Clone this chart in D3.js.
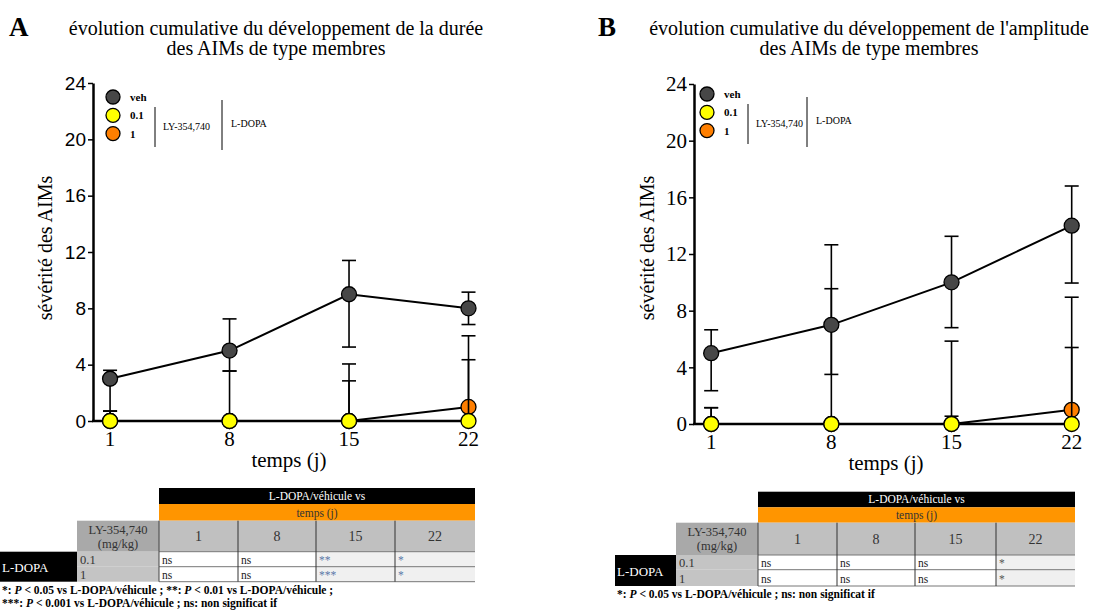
<!DOCTYPE html>
<meta charset="UTF-8">
<style>
  body { margin: 0; background: #fff; }
  svg text { font-family: "Liberation Serif", "Times New Roman", serif; }
  .err { stroke: #000; stroke-width: 1.6px; fill: none; }
  .serie { fill: none; stroke: #000; stroke-width: 2px; }
  .dot { stroke: #000; stroke-width: 1.3px; }
</style>
<body>
<script src="https://cdn.jsdelivr.net/npm/d3@7"></script>
<script>
// shared
var days = [1, 8, 15, 22];
var yTicks = [0, 4, 8, 12, 16, 20, 24];
var groups = ["veh", "0.1", "1"];
var colors = ["#474747", "#ffff00", "#ff7f00"];

// A : durée
var dureeVeh = [3, 5, 9, 8];
var dureeLY01 = [0, 0, 0, 0];
var dureeLY1 = [0, 0, 0, 1];
var dureeVehErr = [[0.7, 3.6], [3.55, 7.25], [5.25, 11.4], [6.85, 9.15]];
var dureeLY01Err = [[0, 0.7], [0, 0], [0, 2.85], [0, 4.35]];
var dureeLY1Err = [[0, 0.7], [0, 3.55], [0, 4.05], [0, 6.05]];

// B : amplitude
var ampVeh = [5, 7, 10, 14];
var ampLY01 = [0, 0, 0, 0];
var ampLY1 = [0, 0, 0, 1];
var ampVehErr = [[2.35, 6.65], [3.5, 12.65], [6.8, 13.25], [9.95, 16.8]];
var ampLY01Err = [[0, 1.15], [0, 0], [0, 0.55], [0, 5.4]];
var ampLY1Err = [[0, 1.15], [0, 9.55], [0, 5.85], [0, 8.95]];

// tables
var tableDays = ["1", "8", "15", "22"];
var sigA = [["ns", "ns", "**", "*"], ["ns", "ns", "***", "*"]];
var sigB = [["ns", "ns", "ns", "*"], ["ns", "ns", "ns", "*"]];

var svg = d3.select("body").append("svg")
  .attr("width", 1108)
  .attr("height", 611)
  .attr("font-family", "Liberation Serif, serif");

function drawPanel(p) {
  var x = d3.scaleLinear().domain([0, 22]).range(p.xr);
  var y = d3.scaleLinear().domain([0, 24]).range(p.yr);
  var g = svg.append("g");

  // panel letter + title
  g.append("text").attr("x", p.letterX).attr("y", 36)
    .attr("font-size", 27).attr("font-weight", "bold").text(p.letter);
  g.selectAll("text.title").data(p.title).enter().append("text")
    .attr("class", "title")
    .attr("x", p.titleX)
    .attr("y", function(d, i) { return 35 + i * 20; })
    .attr("text-anchor", "middle")
    .attr("font-size", 20)
    .text(function(d) { return d; });

  // y axis
  var ya = g.append("g")
    .attr("transform", "translate(" + x(0) + ",0)")
    .call(d3.axisLeft(y).tickValues(yTicks).tickSize(5).tickSizeOuter(0).tickPadding(2));
  ya.select(".domain").attr("stroke-width", 2.5);
  ya.selectAll(".tick line").attr("stroke-width", 1.5);
  ya.selectAll(".tick text")
    .style("font-family", p.yFont)
    .attr("font-size", p.yFontSize)
    .attr("fill", "#000");

  // x axis
  g.append("line")
    .attr("x1", x(0) - 1).attr("x2", x(22) + 6)
    .attr("y1", y(0)).attr("y2", y(0))
    .attr("stroke", "#000").attr("stroke-width", 2.5);
  g.selectAll("text.xt").data(days).enter().append("text")
    .attr("class", "xt")
    .attr("x", function(d) { return x(d); })
    .attr("y", y(0) + 25)
    .attr("text-anchor", "middle")
    .attr("font-size", 21)
    .text(function(d) { return d; });

  g.append("text")
    .attr("x", p.xLabelX).attr("y", y(0) + 46)
    .attr("text-anchor", "middle").attr("font-size", 21)
    .text("temps (j)");
  g.append("text")
    .attr("transform", "translate(" + p.yLabelX + ",248) rotate(-90)")
    .attr("text-anchor", "middle").attr("font-size", 20)
    .text("sévérité des AIMs");

  // series: orange, yellow, then veh on top
  var series = [
    { v: p.ly1, e: p.ly1Err, c: colors[2] },
    { v: p.ly01, e: p.ly01Err, c: colors[1] },
    { v: p.veh, e: p.vehErr, c: colors[0] }
  ];
  var line = d3.line()
    .x(function(d, i) { return x(days[i]); })
    .y(function(d) { return y(d); });

  series.forEach(function(s) {
    var sg = g.append("g");
    var eb = sg.selectAll("g.eb").data(s.e).enter().append("g").attr("class", "eb");
    eb.append("line").attr("class", "err")
      .attr("x1", function(d, i) { return x(days[i]); })
      .attr("x2", function(d, i) { return x(days[i]); })
      .attr("y1", function(d) { return y(d[0]); })
      .attr("y2", function(d) { return y(d[1]); });
    eb.append("line").attr("class", "err")
      .attr("x1", function(d, i) { return x(days[i]) - 7; })
      .attr("x2", function(d, i) { return x(days[i]) + 7; })
      .attr("y1", function(d) { return y(d[1]); })
      .attr("y2", function(d) { return y(d[1]); });
    eb.append("line").attr("class", "err")
      .attr("x1", function(d, i) { return x(days[i]) - 7; })
      .attr("x2", function(d, i) { return x(days[i]) + 7; })
      .attr("y1", function(d) { return y(d[0]); })
      .attr("y2", function(d) { return y(d[0]); });
    sg.append("path").attr("class", "serie").attr("d", line(s.v));
    sg.selectAll("circle").data(s.v).enter().append("circle")
      .attr("class", "dot")
      .attr("cx", function(d, i) { return x(days[i]); })
      .attr("cy", function(d) { return y(d); })
      .attr("r", 7.5)
      .attr("fill", s.c);
  });

  // legend
  var lg = g.append("g").attr("transform", "translate(" + p.leg[0] + "," + p.leg[1] + ")");
  groups.forEach(function(name, i) {
    lg.append("circle").attr("class", "dot")
      .attr("cx", 0).attr("cy", i * 18.3).attr("r", 7)
      .attr("fill", colors[i]);
    lg.append("text").attr("x", 17).attr("y", i * 18.3 + 4)
      .attr("font-size", 11).attr("font-weight", "bold")
      .text(name);
  });
  lg.append("line").attr("x1", p.legLines[0]).attr("x2", p.legLines[0])
    .attr("y1", 10).attr("y2", 50).attr("stroke", "#000").attr("stroke-width", 1);
  lg.append("text").attr("x", p.legLines[0] + 8).attr("y", 33)
    .attr("font-size", 10).text("LY-354,740");
  lg.append("line").attr("x1", p.legLines[1]).attr("x2", p.legLines[1])
    .attr("y1", 3).attr("y2", 53).attr("stroke", "#000").attr("stroke-width", 1);
  lg.append("text").attr("x", p.legLines[1] + 9).attr("y", 30)
    .attr("font-size", 10).text("L-DOPA");
}

function drawTable(t) {
  var g = svg.append("g");
  var cx = t.cols; // [ldopaLeft, labelLeft, day0, day1, day2, day3, right]
  var ry = t.rows; // [black, orange, grey, row1, row2, bottom]

  g.append("rect").attr("x", cx[2]).attr("y", ry[0])
    .attr("width", cx[6] - cx[2]).attr("height", ry[1] - ry[0]).attr("fill", "#000");
  g.append("text").attr("x", (cx[2] + cx[6]) / 2).attr("y", ry[1] - 4)
    .attr("text-anchor", "middle").attr("font-size", 11.5).attr("fill", "#fff")
    .text("L-DOPA/véhicule vs");
  g.append("rect").attr("x", cx[2]).attr("y", ry[1])
    .attr("width", cx[6] - cx[2]).attr("height", ry[2] - ry[1]).attr("fill", "#ff9500");
  g.append("text").attr("x", (cx[2] + cx[6]) / 2).attr("y", ry[2] - 4)
    .attr("text-anchor", "middle").attr("font-size", 11.5).attr("fill", "#333")
    .text("temps (j)");

  // header row
  g.append("rect").attr("x", cx[1]).attr("y", ry[2])
    .attr("width", cx[2] - cx[1]).attr("height", ry[3] - ry[2]).attr("fill", "#a9a9a9");
  g.append("text").attr("x", (cx[1] + cx[2]) / 2).attr("y", ry[2] + 13)
    .attr("text-anchor", "middle").attr("font-size", 12.5).attr("fill", "#333")
    .text("LY-354,740");
  g.append("text").attr("x", (cx[1] + cx[2]) / 2).attr("y", ry[2] + 27)
    .attr("text-anchor", "middle").attr("font-size", 12.5).attr("fill", "#333")
    .text("(mg/kg)");
  tableDays.forEach(function(d, i) {
    g.append("rect").attr("x", cx[2 + i]).attr("y", ry[2])
      .attr("width", cx[3 + i] - cx[2 + i]).attr("height", ry[3] - ry[2])
      .attr("fill", "#c0c0c0");
    g.append("text").attr("x", (cx[2 + i] + cx[3 + i]) / 2).attr("y", (ry[2] + ry[3]) / 2 + 5)
      .attr("text-anchor", "middle").attr("font-size", 14).attr("fill", "#333")
      .text(d);
  });

  // L-DOPA cell
  g.append("rect").attr("x", cx[0]).attr("y", ry[3])
    .attr("width", cx[1] - cx[0]).attr("height", ry[5] - ry[3]).attr("fill", "#000");
  g.append("text").attr("x", cx[0] + 2).attr("y", (ry[3] + ry[5]) / 2 + 5)
    .attr("font-size", 13).attr("fill", "#fff").text("L-DOPA");

  // body rows
  ["0.1", "1"].forEach(function(dose, r) {
    g.append("rect").attr("x", cx[1]).attr("y", ry[3 + r])
      .attr("width", cx[2] - cx[1]).attr("height", ry[4 + r] - ry[3 + r]).attr("fill", "#c4c4c4");
    g.append("text").attr("x", cx[1] + 3).attr("y", ry[4 + r] - 3)
      .attr("font-size", 12.5).attr("fill", "#333").text(dose);
    t.sig[r].forEach(function(s, i) {
      g.append("rect").attr("x", cx[2 + i]).attr("y", ry[3 + r])
        .attr("width", cx[3 + i] - cx[2 + i]).attr("height", ry[4 + r] - ry[3 + r])
        .attr("fill", t.shaded.indexOf(i) >= 0 ? "#f0f0f0" : "#fff");
      g.append("text").attr("x", cx[2 + i] + 3).attr("y", ry[4 + r] - 3)
        .attr("font-size", 11.5)
        .attr("fill", s === "ns" ? "#222" : t.starColor)
        .text(s);
    });
  });

  // grid lines
  for (var i = 3; i <= 5; i++) {
    g.append("line").attr("x1", cx[2]).attr("x2", cx[6])
      .attr("y1", ry[i]).attr("y2", ry[i]).attr("stroke", "#777").attr("stroke-width", 1);
  }
  for (var j = 3; j <= 5; j++) {
    g.append("line").attr("x1", cx[j]).attr("x2", cx[j])
      .attr("y1", ry[2]).attr("y2", ry[5]).attr("stroke", "#333").attr("stroke-width", 1);
  }
  g.append("line").attr("x1", cx[2]).attr("x2", cx[2])
    .attr("y1", ry[2]).attr("y2", ry[5]).attr("stroke", "#444").attr("stroke-width", 1);

  // footnotes
  t.notes.forEach(function(parts, k) {
    var tx = g.append("text").attr("x", cx[0] + 2).attr("y", t.noteY + k * 13)
      .attr("font-size", 11.5).attr("font-weight", "bold");
    parts.forEach(function(pt) {
      tx.append("tspan").attr("font-style", pt[1] ? "italic" : "normal").text(pt[0]);
    });
  });
}

drawPanel({
  letter: "A", letterX: 9,
  title: ["évolution cumulative du développement de la durée", "des AIMs de type membres"],
  titleX: 276,
  xr: [93, 468.5], yr: [421, 83],
  yFont: "Liberation Sans, Arial, sans-serif", yFontSize: 19,
  xLabelX: 289, yLabelX: 52,
  veh: dureeVeh, ly01: dureeLY01, ly1: dureeLY1,
  vehErr: dureeVehErr, ly01Err: dureeLY01Err, ly1Err: dureeLY1Err,
  leg: [113, 97], legLines: [42, 109]
});

drawPanel({
  letter: "B", letterX: 598,
  title: ["évolution cumulative du développement de l'amplitude", "des AIMs de type membres"],
  titleX: 869,
  xr: [694, 1071.7], yr: [424, 84],
  yFont: "Liberation Serif, serif", yFontSize: 21,
  xLabelX: 886, yLabelX: 654,
  veh: ampVeh, ly01: ampLY01, ly1: ampLY1,
  vehErr: ampVehErr, ly01Err: ampLY01Err, ly1Err: ampLY1Err,
  leg: [707, 94], legLines: [41, 100]
});

drawTable({
  cols: [0, 77, 159, 238, 316, 395, 475],
  rows: [488, 504, 520.7, 551.7, 566.7, 581.7],
  sig: sigA, shaded: [2, 3], starColor: "#5a78a8",
  noteY: 594,
  notes: [
    [["*: "], ["P", 1], [" < 0.05 vs L-DOPA/véhicule ; **: "], ["P", 1], [" < 0.01 vs L-DOPA/véhicule ;"]],
    [["***: "], ["P", 1], [" < 0.001 vs L-DOPA/véhicule ; ns: non significat if"]]
  ]
});

drawTable({
  cols: [615, 676, 758, 837, 915, 996, 1075],
  rows: [491.7, 507.3, 522.7, 555, 569.7, 586],
  sig: sigB, shaded: [3], starColor: "#555",
  noteY: 598,
  notes: [
    [["*: "], ["P", 1], [" < 0.05 vs L-DOPA/véhicule ; ns: non significat if"]]
  ]
});
</script>
</body>
